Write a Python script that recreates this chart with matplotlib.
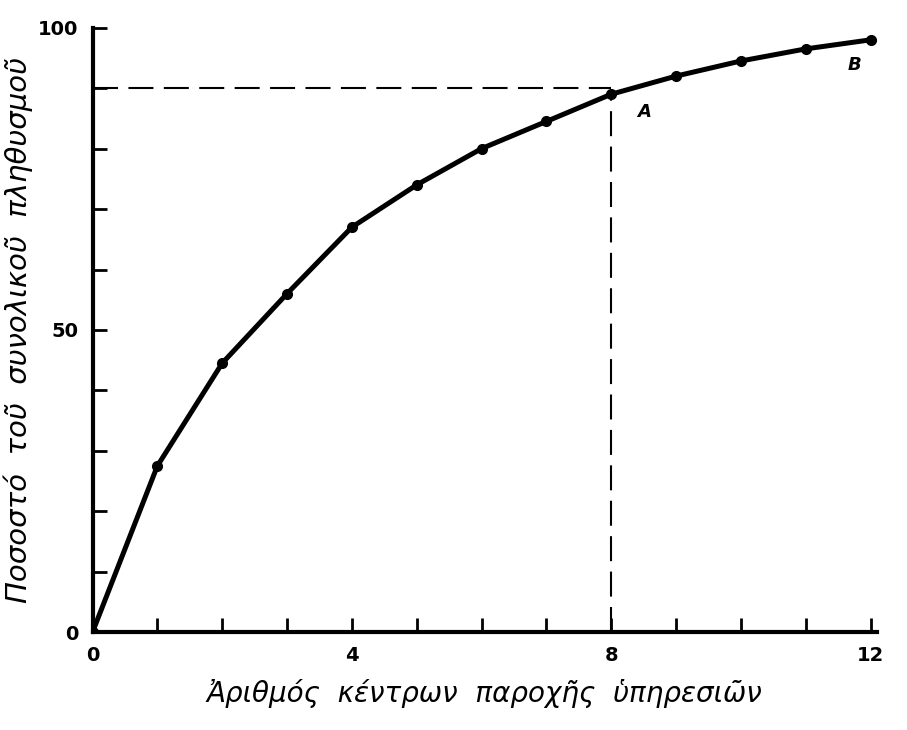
import numpy as np
import matplotlib.pyplot as plt

# number of service centres vs share of population covered (%)
centres = [0, 1, 2, 3, 4, 5, 6, 7, 8, 9, 10, 11, 12]
percent = [0, 27.5, 44.5, 56, 67, 74, 80, 84.5, 89, 92, 94.5, 96.5, 98]

x_ticks = [0, 4, 8, 12]
y_ticks = [0, 50, 100]
point_a = (8, 89)
point_b = (12, 98)

plt.rcParams['font.family'] = ['DejaVu Sans']

fig = plt.figure(figsize=(9.07, 7.3), dpi=100)
ax = fig.add_axes([0.102, 0.134, 0.865, 0.828])

ax.plot(centres, percent, color='black', lw=3.6, marker='o', ms=7,
        solid_capstyle='round', zorder=3)

# dashed guides to point A
ax.plot([0, point_a[0]], [point_a[1] + 1, point_a[1] + 1], color='black',
        lw=1.5, dashes=(12, 5))
ax.plot([point_a[0], point_a[0]], [0, point_a[1]], color='black',
        lw=1.5, dashes=(12, 5))

ax.text(point_a[0] + 0.4, point_a[1] - 3.8, 'A', fontsize=13,
        fontweight='bold', fontstyle='italic')
ax.text(point_b[0] - 0.35, point_b[1] - 5, 'B', fontsize=13,
        fontweight='bold', fontstyle='italic')

ax.set_xlim(0, 12.1)
ax.set_ylim(0, 100)

ax.set_xticks(np.arange(0, 13, 1), minor=True)
ax.set_yticks(np.arange(0, 101, 10), minor=True)
ax.set_xticks(x_ticks)
ax.set_yticks(y_ticks)
ax.set_xticklabels([str(v) for v in x_ticks], fontsize=14, fontweight='bold')
ax.set_yticklabels([str(v) for v in y_ticks], fontsize=14, fontweight='bold')

ax.tick_params(which='both', direction='in', width=2, length=10)
ax.tick_params(axis='x', which='major', pad=10)
ax.tick_params(axis='y', which='major', pad=10)

for side in ['top', 'right']:
    ax.spines[side].set_visible(False)
for side in ['left', 'bottom']:
    ax.spines[side].set_linewidth(3)

ax.set_xlabel('Ἀριθμός  κέντρων  παροχῆς  ὑπηρεσιῶν', fontsize=20,
              fontstyle='italic', labelpad=10)
ax.set_ylabel('Ποσοστό  τοῦ  συνολικοῦ  πληθυσμοῦ', fontsize=21,
              fontstyle='italic', labelpad=4)

fig.savefig('out.png', dpi=100)
